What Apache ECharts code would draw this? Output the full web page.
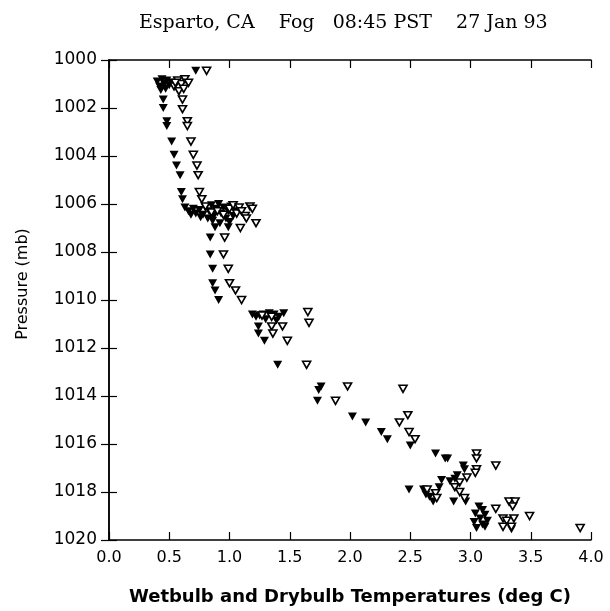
<!DOCTYPE html>
<html>
<head>
<meta charset="utf-8">
<script src="https://cdn.jsdelivr.net/npm/echarts@6/dist/echarts.min.js"></script>
<style>
html,body{margin:0;padding:0;background:#fff;}
#chart{width:610px;height:611px;}
</style>
</head>
<body>
<div id="chart"></div>
<script>
// Wetbulb temperature (deg C), pressure (mb) - filled triangles
var wetbulb = [
  [0.72,1000.45],
  [0.40,1000.9],[0.42,1001.1],[0.44,1000.8],[0.46,1001.0],[0.48,1000.85],[0.50,1001.05],[0.43,1001.25],[0.52,1000.95],[0.47,1001.2],
  [0.45,1001.65],[0.45,1002.0],[0.48,1002.55],[0.48,1002.75],[0.52,1003.4],[0.54,1003.95],[0.56,1004.4],[0.59,1004.8],[0.60,1005.5],[0.61,1005.8],
  [0.63,1006.15],[0.66,1006.3],[0.70,1006.2],[0.72,1006.4],[0.75,1006.25],[0.78,1006.45],[0.80,1006.15],[0.83,1006.3],[0.85,1006.05],[0.87,1006.5],
  [0.89,1006.2],[0.91,1006.0],[0.93,1006.4],[0.95,1006.15],[0.97,1006.6],[0.99,1006.3],[1.01,1006.1],[1.03,1006.5],[0.86,1006.7],[0.92,1006.8],
  [1.00,1006.75],[0.68,1006.45],[0.76,1006.55],[0.82,1006.6],[1.05,1006.3],
  [0.88,1006.97],[0.99,1006.97],[0.84,1007.4],
  [0.84,1008.1],[0.86,1008.7],[0.86,1009.3],[0.88,1009.6],[0.91,1010.0],
  [1.19,1010.6],[1.22,1010.7],[1.25,1010.65],[1.28,1010.6],[1.33,1010.55],[1.37,1010.6],[1.41,1010.7],[1.45,1010.55],[1.30,1010.8],[1.39,1010.85],
  [1.24,1011.1],[1.24,1011.4],[1.29,1011.7],[1.40,1012.7],
  [1.76,1013.6],[1.74,1013.75],[1.73,1014.2],[2.02,1014.85],[2.13,1015.1],[2.26,1015.5],[2.31,1015.8],[2.50,1016.06],
  [2.71,1016.4],[2.79,1016.6],[2.81,1016.6],
  [2.94,1016.9],[2.95,1017.05],[2.89,1017.3],[2.87,1017.45],[2.76,1017.5],[2.83,1017.55],[2.74,1017.8],[2.49,1017.9],[2.61,1017.9],
  [2.63,1018.1],[2.66,1018.2],[2.69,1018.4],[2.86,1018.4],[2.96,1018.4],
  [3.07,1018.6],[3.10,1018.75],[3.04,1018.9],[3.12,1018.95],[3.08,1019.1],[3.14,1019.2],[3.03,1019.25],[3.10,1019.35],[3.05,1019.5],[3.12,1019.45],
  [3.34,1019.55]
];
// Drybulb temperature (deg C), pressure (mb) - open triangles
var drybulb = [
  [0.81,1000.45],
  [0.54,1001.1],[0.57,1000.85],[0.60,1001.0],[0.63,1000.8],[0.66,1000.95],[0.58,1001.3],[0.62,1001.2],[0.55,1000.95],
  [0.61,1001.65],[0.61,1002.05],[0.65,1002.55],[0.65,1002.75],[0.68,1003.4],[0.70,1003.95],[0.73,1004.4],[0.74,1004.8],[0.75,1005.5],[0.77,1005.8],
  [0.80,1006.1],[0.85,1006.35],[0.90,1006.3],[0.95,1006.45],[1.00,1006.2],[1.03,1006.05],[1.06,1006.4],[1.08,1006.15],[1.10,1006.3],[1.13,1006.5],
  [1.17,1006.1],[1.19,1006.2],[1.14,1006.6],[1.22,1006.8],[1.09,1007.0],[0.96,1007.4],
  [0.95,1008.1],[0.99,1008.7],[1.00,1009.3],[1.05,1009.6],[1.10,1010.0],
  [1.27,1010.65],[1.35,1010.7],
  [1.65,1010.5],[1.66,1010.95],[1.35,1011.1],[1.44,1011.1],[1.36,1011.4],[1.48,1011.7],[1.64,1012.7],
  [1.98,1013.6],[2.44,1013.7],[1.88,1014.2],[2.48,1014.8],[2.41,1015.1],[2.49,1015.5],[2.54,1015.8],
  [3.05,1016.4],[3.05,1016.6],[3.21,1016.9],[3.05,1017.05],[3.04,1017.2],[2.97,1017.4],[2.91,1017.6],[2.87,1017.8],
  [2.64,1017.9],[2.71,1018.05],[2.72,1018.25],[2.91,1018.0],[2.95,1018.25],
  [3.32,1018.4],[3.37,1018.4],[3.35,1018.6],[3.21,1018.7],[3.27,1019.1],[3.30,1019.2],[3.36,1019.1],[3.27,1019.45],[3.34,1019.45],
  [3.49,1019.0],[3.91,1019.5]
];
var titleText = 'Esparto, CA    Fog   08:45 PST    27 Jan 93';
var xName = 'Wetbulb and Drybulb Temperatures (deg C)';
var yName = 'Pressure (mb)';

var chart = echarts.init(document.getElementById('chart'), null, {renderer:'canvas'});
var sans = 'DejaVu Sans';
var axisCommon = {
  axisLine:{show:true, lineStyle:{color:'#000', width:1.5}},
  axisTick:{show:true, inside:true, length:8, lineStyle:{color:'#000', width:1.2}},
  splitLine:{show:false}
};
var option = {
  backgroundColor:'#fff',
  animation:false,
  title:{
    text:titleText, left:134, top:9,
    textStyle:{fontFamily:'DejaVu Serif', fontWeight:'normal', fontSize:19, color:'#000'}
  },
  graphic:[{
    type:'text', x:23, y:284, rotation:Math.PI/2,
    style:{text:yName, fontFamily:sans, fontSize:16, fill:'#000', align:'center', verticalAlign:'middle'}
  }],
  grid:{left:109, right:19, top:60, bottom:69},
  xAxis:[
    Object.assign({type:'value', position:'bottom', min:0, max:4, interval:0.5,
      name:xName, nameLocation:'middle', nameGap:48,
      nameTextStyle:{fontFamily:sans, fontSize:18, fontWeight:'bold', color:'#000'},
      axisLabel:{margin:10, fontFamily:sans, fontSize:16, color:'#000', formatter:function(v){return v.toFixed(1);}}
    }, axisCommon),
    Object.assign({type:'value', position:'top', min:0, max:4, interval:0.5, axisLabel:{show:false}}, axisCommon)
  ],
  yAxis:[
    Object.assign({type:'value', position:'left', inverse:true, min:1000, max:1020, interval:2,
      axisLabel:{margin:12, fontFamily:sans, fontSize:17, color:'#000', formatter:function(v){return String(v);}}
    }, axisCommon),
    Object.assign({type:'value', position:'right', inverse:true, min:1000, max:1020, interval:2, axisLabel:{show:false}}, axisCommon)
  ],
  series:[
    {type:'scatter', name:'Wetbulb', data:wetbulb, xAxisIndex:0, yAxisIndex:0,
      symbol:'triangle', symbolRotate:180, symbolSize:[9,8],
      itemStyle:{color:'#000', opacity:1}},
    {type:'scatter', name:'Drybulb', data:drybulb, xAxisIndex:0, yAxisIndex:0,
      symbol:'triangle', symbolRotate:180, symbolSize:[8,7],
      itemStyle:{color:'#fff', borderColor:'#000', borderWidth:1.6, opacity:1}}
  ]
};
chart.setOption(option);
</script>
</body>
</html>
